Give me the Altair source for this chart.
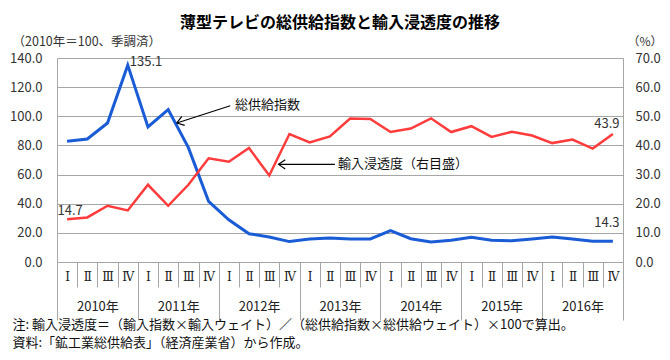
import altair as alt
import pandas as pd

# ---- data ----
quarter_labels = ["Ⅰ", "Ⅱ", "Ⅲ", "Ⅳ"]
year_labels = ["2010年", "2011年", "2012年", "2013年", "2014年", "2015年", "2016年"]
supply_index = [82.8, 84.4, 95.4, 135.1, 92.7, 104.6, 78.5, 41.6,
                29.0, 19.4, 17.2, 14.0, 15.8, 16.5, 15.8, 15.8,
                21.5, 16.0, 13.7, 14.9, 16.9, 14.9, 14.6, 15.8,
                17.2, 15.8, 14.2, 14.3]
import_penetration = [14.7, 15.3, 19.3, 17.7, 26.5, 19.3, 26.5, 35.6,
                      34.4, 39.1, 29.7, 43.9, 41.0, 43.1, 49.2, 49.1,
                      44.6, 45.8, 49.3, 44.6, 46.6, 42.9, 44.7, 43.4,
                      40.8, 42.0, 38.9, 43.9]
left_ticks = [0, 20, 40, 60, 80, 100, 120, 140]
right_ticks = [0, 10, 20, 30, 40, 50, 60, 70]

# annotation arrows (in quarter index / left-axis units)
arrow_names = ["総供給指数", "輸入浸透度（右目盛）"]
arrow_t_start = [8.57, 13.75]
arrow_v_start = [107.2, 67.0]
arrow_t_end = [5.93, 10.96]
arrow_v_end = [95.4, 67.0]
arrow_angle = [162, 180]
arrow_text_t = [8.8, 13.9]
arrow_text_v = [108.0, 67.0]

title_text = "薄型テレビの総供給指数と輸入浸透度の推移"
left_unit = "（2010年＝100、季調済）"
right_unit = "（%）"
notes = ["注: 輸入浸透度＝（輸入指数×輸入ウェイト）／（総供給指数×総供給ウェイト）×100で算出。",
         "資料:「鉱工業総供給表」（経済産業省）から作成。"]

FONT = "Noto Sans CJK JP"
BLUE = "#1a5cd6"
RED = "#ff3b3b"
GRID = "#a6a6a6"

n = len(supply_index)
df = pd.DataFrame({
    "t": [i + 0.5 for i in range(n)],
    "supply": supply_index,
    "pen": import_penetration,
})
ann = pd.DataFrame({
    "name": arrow_names,
    "t": arrow_t_start, "v": arrow_v_start,
    "t2": arrow_t_end, "v2": arrow_v_end,
    "angle": arrow_angle,
    "tt": arrow_text_t, "tv": arrow_text_v,
})

xscale = alt.Scale(domain=[0, n], nice=False, zero=False)
yl = alt.Scale(domain=[0, 140], nice=False)
yr = alt.Scale(domain=[0, 70], nice=False)

q_expr = "datum.value >= %d ? '' : %s[datum.value %% 4]" % (n, str(quarter_labels))
y_expr = "datum.value >= %d ? '' : %s[floor(datum.value / 4)]" % (n, str(year_labels))

quarter_axis = alt.Axis(orient="bottom", values=list(range(0, n + 1)), tickSize=25, tickColor=GRID,
                        domain=False, grid=False, labelExpr=q_expr, labelOffset=10.1,
                        labelPadding=-16, labelFont="DejaVu Serif", labelFontSize=12,
                        labelColor="#222", labelOverlap=False, labelFlush=False,
                        labelBound=False, title=None)
year_axis = alt.Axis(orient="bottom", values=list(range(0, n + 1, 4)), tickSize=58, tickColor=GRID,
                     domain=False, grid=False, labelExpr=y_expr, labelOffset=40.4,
                     labelPadding=-20, labelFont=FONT, labelFontSize=13,
                     labelColor="#222", labelOverlap=False, labelFlush=False,
                     labelBound=False, labelBaseline="top",
                     title=notes, titleFont=FONT, titleFontSize=13, titleFontWeight="normal",
                     titleColor="#111", titleAnchor="start", titleAlign="left",
                     titleBaseline="top", titleX=-45, titleY=56, titleLineHeight=18)

left_axis = alt.Axis(values=left_ticks, format=".1f", grid=True, gridColor=GRID,
                     domainColor=GRID, ticks=False, labelPadding=15, labelFont=FONT,
                     labelFontSize=13, labelColor="#333",
                     title=left_unit, titleAngle=0, titleAlign="left", titleBaseline="middle",
                     titleX=-45, titleY=-17, titleFont=FONT, titleFontSize=12.5,
                     titleFontWeight="normal", titleColor="#333")
right_axis = alt.Axis(values=right_ticks, format=".1f", grid=False, orient="right",
                      domainColor=GRID, ticks=False, labelPadding=12, labelFont=FONT,
                      labelFontSize=13, labelColor="#333",
                      title=right_unit, titleAngle=0, titleAlign="left", titleBaseline="middle",
                      titleX=4, titleY=-17, titleFont=FONT, titleFontSize=12,
                      titleFontWeight="normal", titleColor="#333")

xq = alt.X("t:Q", scale=xscale, axis=quarter_axis)
xy = alt.X("t:Q", scale=xscale, axis=year_axis)

base = alt.Chart(df)

blue_line = base.mark_line(color=BLUE, strokeWidth=3).encode(
    x=xq, y=alt.Y("supply:Q", scale=yl, axis=left_axis))

blue_max = base.transform_filter(f"datum.supply == {max(supply_index)}").mark_text(
    align="left", baseline="middle", dx=2, dy=-3, font=FONT, fontSize=13, color="#333"
).encode(x=xq, y=alt.Y("supply:Q", scale=yl, axis=left_axis), text=alt.Text("supply:Q", format=".1f"))

blue_last = base.transform_filter(f"datum.t == {n - 0.5}").mark_text(
    align="center", baseline="middle", dx=-6, dy=-18, font=FONT, fontSize=13, color="#333"
).encode(x=xq, y=alt.Y("supply:Q", scale=yl, axis=left_axis), text=alt.Text("supply:Q", format=".1f"))

arrow_rule = alt.Chart(ann).mark_rule(color="black", strokeWidth=1.2).encode(
    x=xq, y=alt.Y("v:Q", scale=yl, axis=left_axis), x2="t2:Q", y2="v2:Q")

arrow_head = alt.Chart(ann).mark_point(
    shape="M -1 -0.7 L 0 0 L -1 0.7", filled=False, color="black", strokeWidth=1.2,
    size=180, opacity=1
).encode(x=alt.X("t2:Q", scale=xscale, axis=quarter_axis),
         y=alt.Y("v2:Q", scale=yl, axis=left_axis),
         angle=alt.Angle("angle:Q", scale=None))

arrow_text = alt.Chart(ann).mark_text(
    align="left", baseline="middle", font=FONT, fontSize=13, color="#111"
).encode(x=alt.X("tt:Q", scale=xscale, axis=quarter_axis),
         y=alt.Y("tv:Q", scale=yl, axis=left_axis), text="name:N")

left_group = alt.layer(blue_line, blue_max, blue_last, arrow_rule, arrow_head, arrow_text)

red_line = base.mark_line(color=RED, strokeWidth=2.5).encode(
    x=xy, y=alt.Y("pen:Q", scale=yr, axis=right_axis))

red_first = base.transform_filter("datum.t == 0.5").mark_text(
    align="center", baseline="middle", dx=3, dy=-8, font=FONT, fontSize=13, color="#333"
).encode(x=xy, y=alt.Y("pen:Q", scale=yr, axis=right_axis), text=alt.Text("pen:Q", format=".1f"))

red_last = base.transform_filter(f"datum.t == {n - 0.5}").mark_text(
    align="center", baseline="middle", dx=-6, dy=-10, font=FONT, fontSize=13, color="#333"
).encode(x=xy, y=alt.Y("pen:Q", scale=yr, axis=right_axis), text=alt.Text("pen:Q", format=".1f"))

right_group = alt.layer(red_line, red_first, red_last)

chart = alt.layer(left_group, right_group).resolve_scale(
    y="independent"
).resolve_axis(
    x="independent"
).properties(
    width=566, height=204,
    autosize=alt.AutoSizeParams(type="none"),
    padding={"left": 49, "top": 50, "right": 39, "bottom": 90},
    title=alt.TitleParams(title_text, font=FONT, fontSize=16, fontWeight="bold",
                          color="#000", anchor="middle", offset=4),
).configure_view(stroke=GRID).configure(background="white")

chart.save("out.html", embed_options={"renderer": "svg", "actions": False})
